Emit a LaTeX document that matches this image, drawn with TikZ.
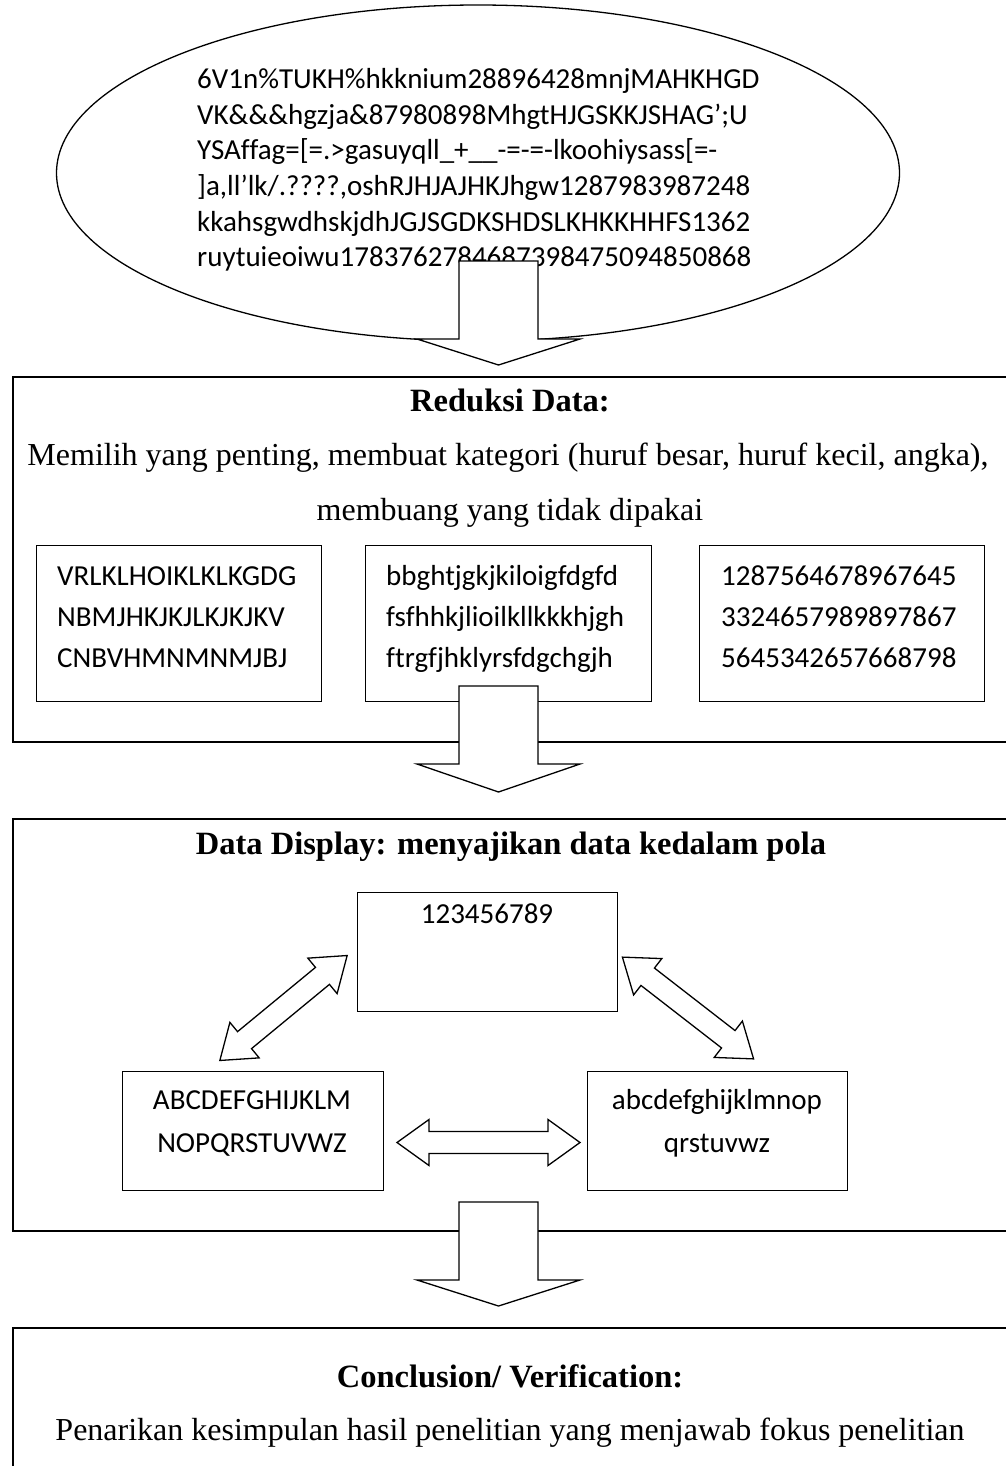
\documentclass[tikz,border=0pt]{standalone}
\usepackage{fontspec}
\setmainfont{Liberation Serif}
\newfontfamily\calfont[Ligatures=CommonOff]{Carlito}
\usetikzlibrary{shapes.geometric}
\newcommand{\dblarrow}[4]{%
  \draw[blockarrow, shift={(#1,#2)}, rotate=#3]
    (-#4,0) -- (-#4+32,23) -- (-#4+32,11) -- (#4-32,11) -- (#4-32,23) -- (#4,0)
    -- (#4-32,-23) -- (#4-32,-11) -- (-#4+32,-11) -- (-#4+32,-23) -- cycle;}
\begin{document}
\begin{tikzpicture}[x=1pt,y=-1pt,
  bigbox/.style={draw, line width=1.8pt, inner sep=0pt, anchor=north west},
  smallbox/.style={draw, line width=1.3pt, inner sep=0pt, anchor=north west},
  blockarrow/.style={draw, fill=white, line width=1.3pt, line join=miter},
  caltext/.style={font=\calfont\fontsize{29}{35}\selectfont, inner sep=0pt},
  sertext/.style={font=\fontsize{32}{38}\selectfont, inner sep=0pt, anchor=base},
  serbold/.style={font=\bfseries\fontsize{32.5}{38}\selectfont, inner sep=0pt, anchor=base},
]
\useasboundingbox (0,0) rectangle (1005,1466);

% source ellipse
\node[ellipse, draw, line width=1.3pt, minimum width=843pt, minimum height=336pt, inner sep=0pt] (src) at (478,173) {};
\node[caltext, anchor=base west] (e1) at (197,89) {6V1n\%TUKH\%hkknium28896428mnjMAHKHGD};
\node[caltext, anchor=base west] (e2) at (197,124.5) {VK\&\&\&hgzja\&87980898MhgtHJGSKKJSHAG’;U};
\node[caltext, anchor=base west] (e3) at (197,160) {YSAffag=[=.>gasuyqll\_+\_\_-=-=-lkoohiysass[=-};
\node[caltext, anchor=base west] (e4) at (197,195.5) {]a,ll’lk/.????,oshRJHJAJHKJhgw1287983987248};
\node[caltext, anchor=base west] (e5) at (197,231) {kkahsgwdhskjdhJGJSGDKSHDSLKHKKHHFS1362};
\node[caltext, anchor=base west] (e6) at (197,266.5) {ruytuieoiwu1783762784687398475094850868};

% box 1 : reduksi data
\node[bigbox, minimum width=1010pt, minimum height=365pt] (red) at (12,376) {};
\node[serbold] (redT) at (510,411) {Reduksi Data:};
\node[sertext] (redL1) at (508,465) {Memilih yang penting, membuat kategori (huruf besar, huruf kecil, angka),};
\node[sertext] (redL2) at (510,520) {membuang yang tidak dipakai};

\node[smallbox, minimum width=285pt, minimum height=156pt] (ka) at (36,545) {};
\node[smallbox, minimum width=286pt, minimum height=156pt] (kb) at (365,545) {};
\node[smallbox, minimum width=285pt, minimum height=156pt] (kc) at (699,545) {};
\node[caltext, anchor=base west] (ka1) at (57,585) {VRLKLHOIKLKLKGDG};
\node[caltext, anchor=base west] (ka2) at (57,626) {NBMJHKJKJLKJKJKV};
\node[caltext, anchor=base west] (ka3) at (57,667) {CNBVHMNMNMJBJ};
\node[caltext, anchor=base west] (kb1) at (386,585) {bbghtjgkjkiloigfdgfd};
\node[caltext, anchor=base west] (kb2) at (386,626) {fsfhhkjlioilkllkkkhjgh};
\node[caltext, anchor=base west] (kb3) at (386,667) {ftrgfjhklyrsfdgchgjh};
\node[caltext, anchor=base west] (kc1) at (721,585) {1287564678967645};
\node[caltext, anchor=base west] (kc2) at (721,626) {3324657989897867};
\node[caltext, anchor=base west] (kc3) at (721,667) {5645342657668798};

% box 2 : data display
\node[bigbox, minimum width=1010pt, minimum height=412pt] (disp) at (12,818) {};
\node[serbold] (dispT) at (511,854) {Data Display: menyajikan data kedalam pola};
\node[smallbox, minimum width=260pt, minimum height=119pt] (num) at (357,892) {};
\node[caltext, anchor=base] (numT) at (487,923) {123456789};
\node[smallbox, minimum width=261pt, minimum height=119pt] (up) at (122,1071) {};
\node[caltext, anchor=base] (up1) at (252,1109) {ABCDEFGHIJKLM};
\node[caltext, anchor=base] (up2) at (252,1152) {NOPQRSTUVWZ};
\node[smallbox, minimum width=260pt, minimum height=119pt] (low) at (587,1071) {};
\node[caltext, anchor=base] (low1) at (717,1109) {abcdefghijklmnop};
\node[caltext, anchor=base] (low2) at (717,1152) {qrstuvwz};

\dblarrow{283.5}{1008}{39.5}{82.5}
\dblarrow{688}{1008}{-37.8}{83}
\dblarrow{488.5}{1142.5}{0}{91.5}

% box 3 : conclusion
\node[bigbox, minimum width=1010pt, minimum height=200pt] (conc) at (12,1327) {};
\node[serbold] (concT) at (510,1387) {Conclusion/ Verification:};
\node[sertext] (concL) at (510,1440) {Penarikan kesimpulan hasil penelitian yang menjawab fokus penelitian};

% block arrows between stages
\draw[blockarrow] (459,261) -- (538,261) -- (538,339) -- (580,339) -- (498.5,365) -- (417,339) -- (459,339) -- cycle;
\draw[blockarrow] (459,686) -- (538,686) -- (538,764) -- (580,764) -- (498.5,792) -- (417,764) -- (459,764) -- cycle;
\draw[blockarrow] (459,1202) -- (538,1202) -- (538,1280) -- (580,1280) -- (498.5,1306) -- (417,1280) -- (459,1280) -- cycle;
\end{tikzpicture}
\end{document}
